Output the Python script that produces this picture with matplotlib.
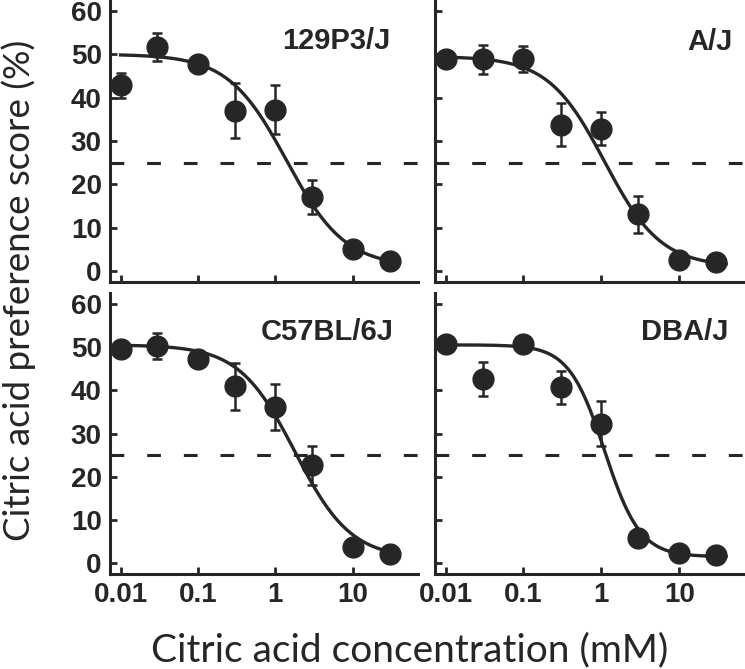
import matplotlib
matplotlib.use("Agg")
import matplotlib.pyplot as plt
import numpy as np

# concentrations (mM)
conc = [0.01, 0.03, 0.1, 0.3, 1, 3, 10, 30]

strains = ["129P3/J", "A/J", "C57BL/6J", "DBA/J"]

# mean preference score (%) and SEM
score_129 = [42.8, 51.7, 47.8, 37.0, 37.2, 17.0, 5.0, 2.3]
err_129 = [2.8, 3.3, 1.0, 6.3, 5.6, 3.9, 1.0, 0.8]
score_aj = [49.0, 48.8, 49.0, 33.8, 32.8, 13.1, 2.5, 2.1]
err_aj = [1.0, 3.3, 3.0, 5.0, 3.8, 4.2, 0.8, 0.8]
score_b6 = [49.6, 50.2, 47.3, 40.9, 36.1, 22.6, 3.8, 2.1]
err_b6 = [1.0, 3.0, 1.0, 5.5, 5.4, 4.5, 0.8, 0.8]
score_dba = [50.6, 42.6, 50.6, 40.7, 32.3, 5.9, 2.3, 1.9]
err_dba = [1.0, 4.0, 1.0, 3.8, 5.3, 1.0, 0.8, 0.8]

# fitted sigmoid parameters (top, bottom, EC50 in mM, Hill slope)
fit_top = [50.0, 49.5, 50.5, 50.5]
fit_bottom = [1.0, 1.0, 1.0, 1.5]
fit_ec50 = [1.4, 1.1, 1.8, 1.1]
fit_hill = [1.15, 1.2, 1.2, 1.9]

scores = [score_129, score_aj, score_b6, score_dba]
errs = [err_129, err_aj, err_b6, err_dba]

col = "#262626"
W, H = 745, 669
fig = plt.figure(figsize=(W / 100, H / 100), dpi=100)

# axes boxes in pixels: left, top, right, bottom
boxes = [(110, 0, 418, 282), (435, 0, 745, 282),
         (110, 293, 418, 574), (435, 293, 745, 574)]
label_pos = [(0.91, 0.855), (0.96, 0.85), (0.92, 0.862), (0.945, 0.862)]

tickfont = {"family": "Liberation Sans", "weight": "bold", "size": 20}

for i, (l, t, r, b) in enumerate(boxes):
    ax = fig.add_axes([l / W, 1 - b / H, (r - l) / W, (b - t) / H])
    ax.set_xscale("log")
    ax.set_xlim(0.0073, 70)
    ax.set_ylim(-2.5, 62.5)

    xs = np.logspace(np.log10(0.01), np.log10(40), 300)
    ys = fit_bottom[i] + (fit_top[i] - fit_bottom[i]) / (1 + (xs / fit_ec50[i]) ** fit_hill[i])
    ax.plot(xs, ys, color=col, lw=2.4, zorder=2)
    ax.axhline(25, color=col, lw=2.2, dashes=(4.5, 7.5), zorder=1)
    ax.errorbar(conc, scores[i], yerr=errs[i], fmt="o", color=col, ms=15,
                elinewidth=1.8, capsize=3.5, capthick=1.8, zorder=3)

    ax.text(label_pos[i][0], label_pos[i][1], strains[i], transform=ax.transAxes,
            ha="right", va="center", color=col,
            fontdict={"family": "Liberation Sans", "weight": "bold", "size": 21})

    for s in ["top", "right"]:
        ax.spines[s].set_visible(False)
    for s in ["left", "bottom"]:
        ax.spines[s].set_linewidth(2.2)
        ax.spines[s].set_color(col)

    ax.set_yticks([0, 10, 20, 30, 40, 50, 60])
    ax.set_xticks([0.01, 0.1, 1, 10])
    ax.set_xticklabels(["0.01", "0.1", "1", "10"])
    ax.minorticks_off()
    ax.tick_params(direction="in", length=5, width=2, color=col, labelcolor=col, pad=6)
    for lab in ax.get_xticklabels() + ax.get_yticklabels():
        lab.set_fontfamily(tickfont["family"])
        lab.set_fontweight(tickfont["weight"])
        lab.set_fontsize(tickfont["size"])
    if i in (1, 3):
        ax.tick_params(labelleft=False)
    if i in (0, 1):
        ax.tick_params(labelbottom=False)

fig.text(410 / W, 1 - 650 / H, "Citric acid concentration (mM)", ha="center", va="center",
         color=col, fontfamily="Lato", fontsize=28)
fig.text(19 / W, 1 - 290 / H, "Citric acid preference score (%)", ha="center", va="center",
         rotation=90, color=col, fontfamily="Lato", fontsize=26.5)

fig.savefig("out.png", dpi=100)
